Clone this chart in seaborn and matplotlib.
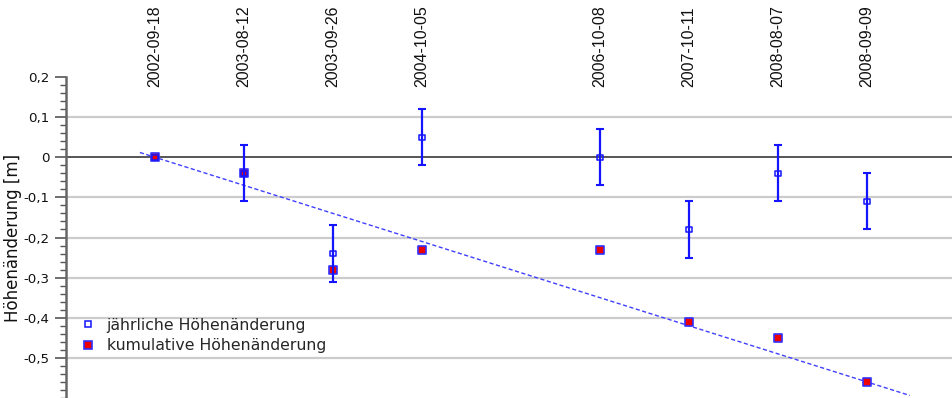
import numpy as np
import pandas as pd
import matplotlib
matplotlib.use("Agg")
import matplotlib.pyplot as plt
import matplotlib.transforms as mtransforms
from matplotlib.ticker import MultipleLocator, FixedLocator, FuncFormatter
from matplotlib.lines import Line2D
import seaborn as sns

# Survey dates and their slot on the category axis (2005 has no survey)
dates = ["2002-09-18", "2003-08-12", "2003-09-26", "2004-10-05",
         "2006-10-08", "2007-10-11", "2008-08-07", "2008-09-09"]
slots = [0, 1, 2, 3, 5, 6, 7, 8]

# Height change per interval [m] with its uncertainty, and the cumulative change
annual = [0.00, -0.04, -0.24, 0.05, 0.00, -0.18, -0.04, -0.11]
annual_err = [0.00, 0.07, 0.07, 0.07, 0.07, 0.07, 0.07, 0.07]
cumulative = [0.00, -0.04, -0.28, -0.23, -0.23, -0.41, -0.45, -0.56]

y_ticks = [0.2, 0.1, 0.0, -0.1, -0.2, -0.3, -0.4, -0.5]
grid_lines = [0.1, -0.1, -0.2, -0.3, -0.4, -0.5]

df = pd.DataFrame({"datum": dates, "slot": slots, "annual": annual,
                   "err": annual_err, "cumulative": cumulative})

sns.set_style("white")
plt.rcParams["font.family"] = ["DejaVu Sans"]

W, H = 952, 398
fig = plt.figure(figsize=(W / 100, H / 100), dpi=100)
ax = fig.add_axes([66 / W, 0.0, 1 - 66 / W, 1 - 77 / H])

BLUE = "#1414ff"

# horizontal grid and the zero line
for v in grid_lines:
    ax.axhline(v, color="#cccccc", lw=1.6, zorder=1)
ax.axhline(0, color="#555555", lw=1.4, zorder=1)

# linear trend from the first to the last cumulative value
slope = (cumulative[-1] - cumulative[0]) / (slots[-1] - slots[0])
trend_x = np.array([-0.17, 8.48])
trend_y = cumulative[0] + slope * (trend_x - slots[0])
sns.lineplot(x=trend_x, y=trend_y, ax=ax, color="#4040ff", lw=1.0,
             linestyle=(0, (3, 1.8)), zorder=2, legend=False)

# cumulative change
sns.scatterplot(data=df, x="slot", y="cumulative", ax=ax, marker="s", s=30,
                color="#ee0000", edgecolor="#3030ff", linewidth=1.2,
                zorder=3, legend=False)

# uncertainty of the annual change
m = df["err"] > 0
ax.errorbar(df.loc[m, "slot"], df.loc[m, "annual"], yerr=df.loc[m, "err"],
            fmt="none", ecolor=BLUE, elinewidth=1.6, capsize=2.6,
            capthick=1.5, zorder=4)

# annual change
sns.scatterplot(data=df, x="slot", y="annual", ax=ax, marker="s", s=14,
                facecolor="none", edgecolor=BLUE, linewidth=1.1,
                zorder=5, legend=False)

ax.set_xlim(-1.0, 8.955)
ax.set_ylim(-0.6, 0.2)

for side in ["top", "right", "bottom"]:
    ax.spines[side].set_visible(False)
ax.spines["left"].set_color("#666666")
ax.spines["left"].set_linewidth(1.8)

ax.set_xticks([])
ax.set_xlabel("")
ax.yaxis.set_major_locator(FixedLocator(y_ticks))
ax.yaxis.set_minor_locator(MultipleLocator(0.02))


def fmt(v, pos):
    if abs(v) < 1e-9:
        return "0"
    return f"{v:.1f}".replace(".", ",")


ax.yaxis.set_major_formatter(FuncFormatter(fmt))
ax.tick_params(axis="y", which="major", left=True, length=8, width=1.2,
               color="#555555", labelsize=9.6, pad=4, labelcolor="#111111")
ax.tick_params(axis="y", which="minor", left=True, length=4, width=1.0,
               color="#555555")
ax.set_ylabel("Höhenänderung [m]", fontsize=12, color="#111111")
ax.yaxis.set_label_coords((22 - 66) / (W - 66), 0.5)

# survey dates written above the plot
trans = mtransforms.blended_transform_factory(ax.transData, ax.transAxes)
for s, d in zip(slots, dates):
    ax.text(s, 1.095, d, transform=trans, rotation=90, ha="center",
            va="center", fontsize=11.5, family=["Liberation Sans"],
            color="#111111", clip_on=False)

handles = [
    Line2D([], [], linestyle="none", marker="s", markersize=4.3,
           markerfacecolor="white", markeredgecolor=BLUE, markeredgewidth=1.1),
    Line2D([], [], linestyle="none", marker="s", markersize=5.6,
           markerfacecolor="#ee0000", markeredgecolor="#3030ff",
           markeredgewidth=1.2),
]
ax.legend(handles, ["jährliche Höhenänderung", "kumulative Höhenänderung"],
          loc="center left", bbox_to_anchor=(80 / W, 1 - 335.5 / H),
          bbox_transform=fig.transFigure, frameon=False, fontsize=11.3,
          handlelength=1.0, handletextpad=0.7, labelspacing=0.34,
          borderpad=0, borderaxespad=0)

fig.savefig("out.png", dpi=100)
